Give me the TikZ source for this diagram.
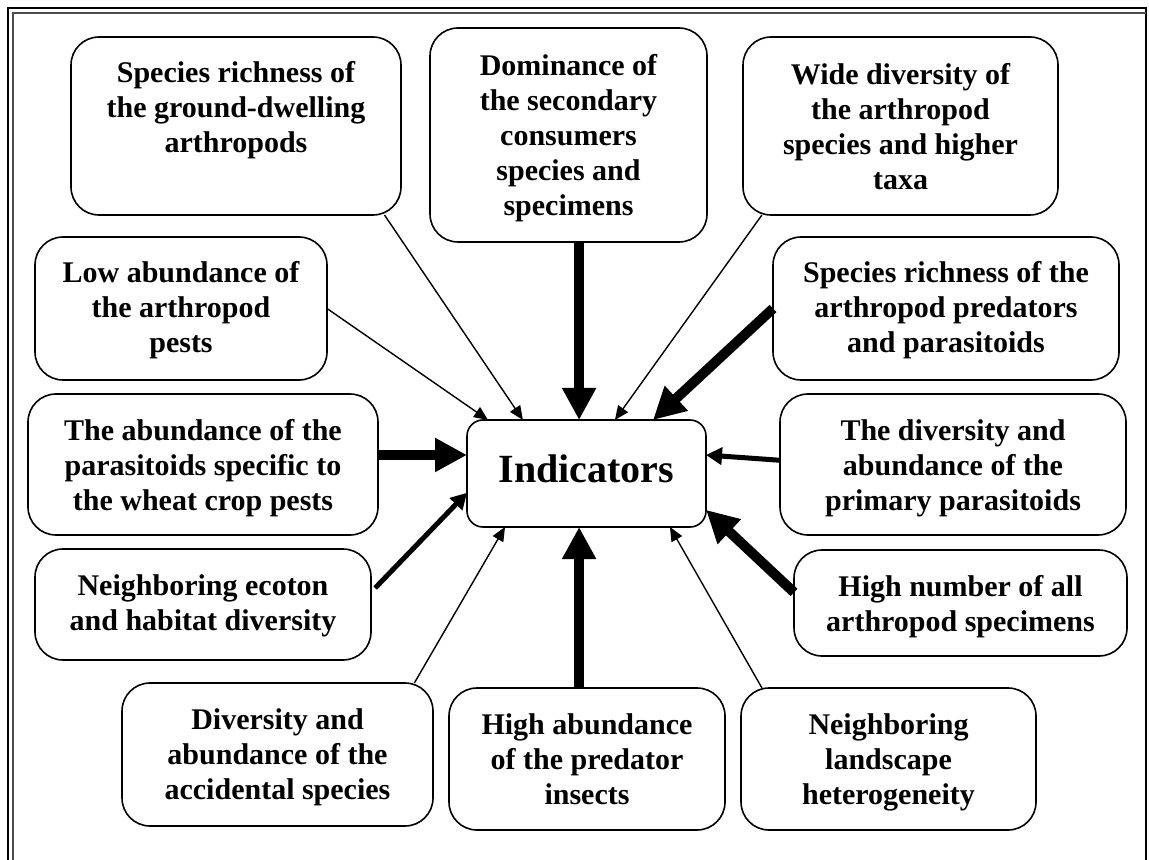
\documentclass[tikz,border=0pt]{standalone}
\usepackage{fontspec}
\setmainfont{Liberation Serif}
\usetikzlibrary{arrows.meta,calc}

\begin{document}
\begin{tikzpicture}[x=0.5pt, y=-0.5pt,
  item/.style={draw, line width=0.8pt, rounded corners=14pt, anchor=north,
    align=flush center, inner xsep=0pt, inner ysep=0pt, outer sep=0pt, text height=23pt,
    font=\fontsize{15}{17.5}\selectfont\bfseries},
  thinlink/.style={line width=0.7pt, -{Triangle[length=7pt,width=6pt]}},
  midlink/.style={line width=2.5pt, -{Triangle[length=8pt,width=8.5pt]}},
  boldlink/.style={line width=5pt, -{Triangle[length=16pt,width=16pt]}}]
  \useasboundingbox (0,0) rectangle (1149,860);

  \draw[line width=1pt] (8,860) -- (8,8) -- (1146,8) -- (1146,860);
  \draw[line width=0.6pt, black!70] (13,860) -- (13,13) -- (1146,13);

  \node[item, text width=165pt, text depth=66pt] (ground) at (236,37)
       {Species richness of\\the ground-dwelling\\arthropods};
  \node[item, text width=138.5pt, text depth=83pt, text height=24pt] (dominance) at (568.5,28)
       {Dominance of\\the secondary\\consumers\\species and\\specimens};
  \node[item, text width=157.5pt, text depth=65pt, text height=24pt] (wide) at (900.5,37)
       {Wide diversity of\\the arthropod\\species and higher\\taxa};
  \node[item, text width=146pt, text depth=48.5pt] (lowpests) at (181,237)
       {Low abundance of\\the arthropod\\pests};
  \node[item, text width=173pt, text depth=48.5pt] (predators) at (946,237)
       {Species richness of the\\arthropod predators\\and parasitoids};
  \node[item, text width=175pt, text depth=47.5pt] (specific) at (203,394)
       {The abundance of the\\parasitoids specific to\\the wheat crop pests};
  \node[item, rounded corners=8pt, text width=119.5pt, text height=31pt, text depth=22.5pt,
        font=\fontsize{20}{24}\selectfont\bfseries] (ind) at (586.5,420)
       {Indicators};
  \node[item, text width=173pt, text depth=47.5pt] (primary) at (953,394)
       {The diversity and\\abundance of the\\primary parasitoids};
  \node[item, text width=168pt, text depth=32.5pt] (ecoton) at (203,549)
       {Neighboring ecoton\\and habitat diversity};
  \node[item, text width=166.5pt, text depth=30pt] (allspec) at (960.5,550)
       {High number of all\\arthropod specimens};
  \node[item, text width=155.5pt, text depth=48.5pt] (accidental) at (277.5,683)
       {Diversity and\\abundance of the\\accidental species};
  \node[item, text width=138pt, text depth=48pt] (predins) at (587,688)
       {High abundance\\of the predator\\insects};
  \node[item, text width=147.5pt, text depth=48pt] (landscape) at (888.5,688)
       {Neighboring\\landscape\\heterogeneity};

  \coordinate (intop) at ($(ind.north west)!0.469!(ind.north east)$);
  \coordinate (inbot) at ($(ind.south west)!0.469!(ind.south east)$);
  \coordinate (inleft) at ($(ind.north west)!0.327!(ind.south west)$);

  \draw[thinlink] ($(ground.south west)!0.95!(ground.south east)$) -- ($(ind.north west)!0.234!(ind.north east)$);
  \draw[thinlink] (lowpests.east) -- ($(ind.north west)!0.088!(ind.north east)$);
  \draw[boldlink] (dominance.south -| intop) -- (intop);
  \draw[thinlink] ($(wide.south west)!0.06!(wide.south east)$) -- ($(ind.north west)!0.619!(ind.north east)$);
  \draw[boldlink] (predators.west) -- ($(ind.north west)!0.778!(ind.north east)$);
  \draw[boldlink] (specific.east |- inleft) -- (inleft);
  \draw[midlink] ($(primary.north west)!0.47!(primary.south west)$) -- ($(ind.north east)!0.327!(ind.south east)$);
  \draw[midlink, shorten <=3pt] ($(ecoton.north east)!0.39!(ecoton.south east)$) -- ($(ind.north west)!0.68!(ind.south west)$);
  \draw[boldlink] ($(allspec.north west)!0.4!(allspec.south west)$) -- ($(ind.north east)!0.84!(ind.south east)$);
  \draw[thinlink] ($(accidental.north west)!0.94!(accidental.north east)$) -- ($(ind.south west)!0.159!(ind.south east)$);
  \draw[boldlink] (predins.north -| inbot) -- (inbot);
  \draw[thinlink] ($(landscape.north west)!0.071!(landscape.north east)$) -- ($(ind.south west)!0.849!(ind.south east)$);
\end{tikzpicture}
\end{document}
